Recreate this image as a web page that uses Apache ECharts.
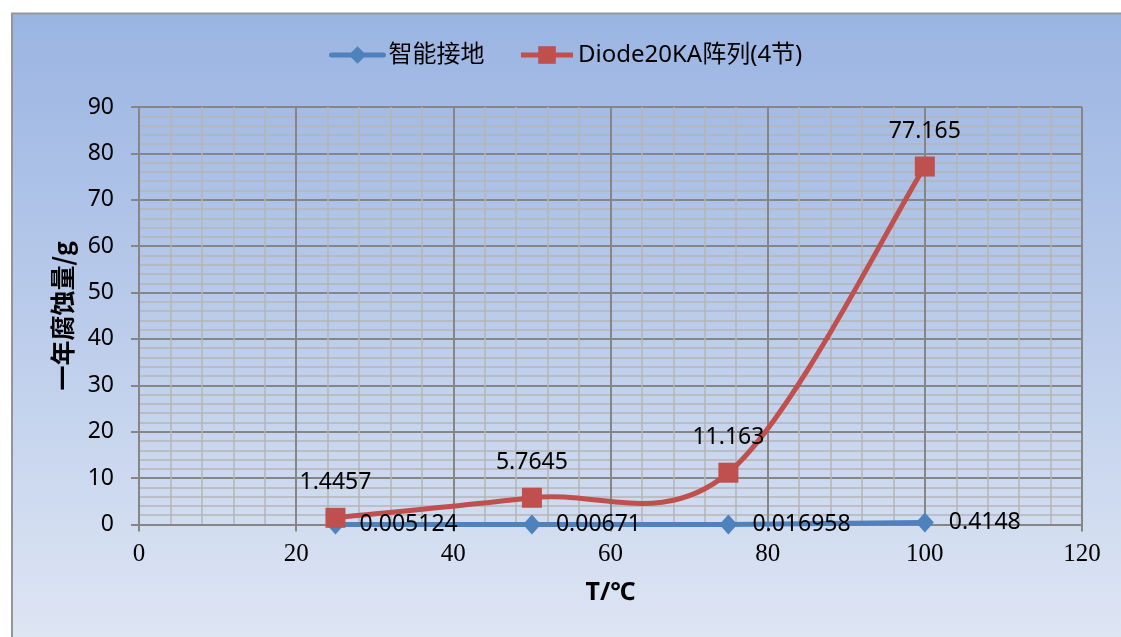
<!DOCTYPE html>
<html>
<head>
<meta charset="utf-8">
<title>一年腐蚀量</title>
<script src="https://cdn.jsdelivr.net/npm/echarts@6/dist/echarts.min.js"></script>
<style>
  html, body { margin: 0; padding: 0; background: #ffffff; }
  #chart { width: 1121px; height: 637px; }
</style>
</head>
<body>
<div id="chart"></div>
<script>
// Temperature (°C) at which the yearly corrosion was measured
const temperatures = [25, 50, 75, 100];
// Yearly corrosion mass (g) for each scheme
const smartGrounding = [0.005124, 0.00671, 0.016958, 0.4148];
const diodeArray = [1.4457, 5.7645, 11.163, 77.165];
const seriesNames = ['智能接地', 'Diode20KA阵列(4节)'];
// Axis ranges and steps
const xRange = { min: 0, max: 120, step: 20 };
const yRange = { min: 0, max: 90, step: 10 };

const BLUE = '#4F81BD';
const RED = '#C0504D';
const MAJOR = '#868686';
const MINOR = '#B5B5B5';
const SANS = "'Noto Sans', 'Noto Sans CJK SC', sans-serif";

const chart = echarts.init(document.getElementById('chart'), null, { renderer: 'canvas' });

// Smooth curve through the points (Catmull-Rom style Bezier segments in pixel space)
function smoothCurve(params, api) {
  if (params.dataIndex !== 0) return null;
  const p = temperatures.map((t, i) => api.coord([t, diodeArray[i]]));
  const n = p.length;
  const children = [];
  for (let i = 0; i < n - 1; i++) {
    const p0 = p[Math.max(i - 1, 0)];
    const p1 = p[i];
    const p2 = p[i + 1];
    const p3 = p[Math.min(i + 2, n - 1)];
    children.push({
      type: 'bezierCurve',
      shape: {
        x1: p1[0], y1: p1[1],
        x2: p2[0], y2: p2[1],
        cpx1: p1[0] + (p2[0] - p0[0]) / 6,
        cpy1: p1[1] + (p2[1] - p0[1]) / 6,
        cpx2: p2[0] - (p3[0] - p1[0]) / 6,
        cpy2: p2[1] - (p3[1] - p1[1]) / 6
      },
      style: { stroke: RED, lineWidth: 5, fill: null, lineCap: 'round' }
    });
  }
  return { type: 'group', children: children };
}

const option = {
  animation: false,
  graphic: {
    elements: [{
      type: 'rect',
      z: -10,
      silent: true,
      shape: { x: 12, y: 13.5, width: 1130, height: 640 },
      style: {
        fill: new echarts.graphic.LinearGradient(0, 0, 0, 1, [
          { offset: 0, color: '#9AB4E2' },
          { offset: 0.5, color: '#BCCDEB' },
          { offset: 1, color: '#E0E7F4' }
        ]),
        stroke: '#959595',
        lineWidth: 2
      }
    }]
  },
  legend: {
    top: 38,
    left: 324,
    itemWidth: 52,
    itemHeight: 22,
    itemGap: 34,
    textStyle: { fontFamily: SANS, fontSize: 24, color: '#000' },
    data: [
      { name: seriesNames[0], lineStyle: { color: BLUE, width: 5, opacity: 1 } },
      { name: seriesNames[1], lineStyle: { color: RED, width: 5, opacity: 1 } }
    ]
  },
  grid: { left: 139, right: 39, top: 107, bottom: 112.5 },
  xAxis: {
    type: 'value',
    min: xRange.min,
    max: xRange.max,
    interval: xRange.step,
    name: 'T/℃',
    nameLocation: 'middle',
    nameGap: 56,
    nameTextStyle: { fontFamily: SANS, fontSize: 25, fontWeight: 'bold', color: '#000' },
    axisLine: { show: true, lineStyle: { color: MAJOR, width: 2 } },
    axisTick: { show: true, length: 7, lineStyle: { color: MAJOR, width: 2 } },
    axisLabel: { fontFamily: "'Liberation Serif', serif", fontSize: 25, color: '#000', margin: 17 },
    splitLine: { show: true, lineStyle: { color: MAJOR, width: 2 } },
    minorTick: { show: false, splitNumber: 5 },
    minorSplitLine: { show: true, lineStyle: { color: MINOR, width: 1.5 } }
  },
  yAxis: {
    type: 'value',
    min: yRange.min,
    max: yRange.max,
    interval: yRange.step,
    name: '一年腐蚀量/g',
    nameLocation: 'middle',
    nameGap: 64,
    nameTextStyle: { fontFamily: "'Noto Sans CJK SC', sans-serif", fontSize: 25, fontWeight: 'bold', color: '#000' },
    axisLine: { show: true, lineStyle: { color: MAJOR, width: 2 } },
    axisTick: { show: true, length: 8, lineStyle: { color: MAJOR, width: 2 } },
    axisLabel: { fontFamily: SANS, fontSize: 23, color: '#000', margin: 25 },
    splitLine: { show: true, lineStyle: { color: MAJOR, width: 2 } },
    minorTick: { show: false, splitNumber: 5 },
    minorSplitLine: { show: true, lineStyle: { color: MINOR, width: 1.5 } }
  },
  series: [
    {
      name: seriesNames[0],
      type: 'line',
      data: temperatures.map((t, i) => [t, smartGrounding[i]]),
      symbol: 'diamond',
      symbolSize: [18, 20],
      itemStyle: { color: BLUE },
      lineStyle: { color: BLUE, width: 5, cap: 'round' },
      label: {
        show: true,
        position: 'right',
        distance: 15,
        fontFamily: SANS,
        fontSize: 23,
        color: '#000',
        formatter: (p) => String(smartGrounding[p.dataIndex])
      }
    },
    {
      name: 'diode-curve',
      type: 'custom',
      data: temperatures.map((t, i) => [t, diodeArray[i]]),
      encode: { x: 0, y: 1 },
      renderItem: smoothCurve,
      silent: true
    },
    {
      name: seriesNames[1],
      type: 'line',
      data: temperatures.map((t, i) => [t, diodeArray[i]]),
      symbol: 'rect',
      symbolSize: 20,
      itemStyle: { color: RED },
      lineStyle: { color: RED, width: 5, opacity: 0 },
      label: {
        show: true,
        position: 'top',
        distance: 14,
        fontFamily: SANS,
        fontSize: 23,
        color: '#000',
        formatter: (p) => String(diodeArray[p.dataIndex])
      }
    }
  ]
};

chart.setOption(option);
</script>
</body>
</html>
